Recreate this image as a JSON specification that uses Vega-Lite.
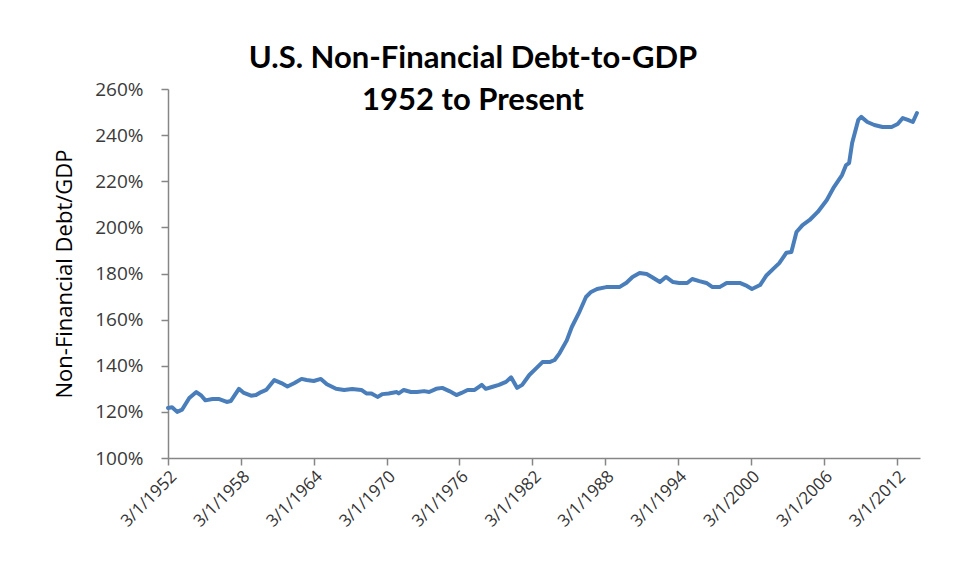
{
  "$schema": "https://vega.github.io/schema/vega-lite/v6.json",
  "width": 752,
  "height": 369,
  "autosize": {"type": "none"},
  "padding": {"left": 168, "top": 89, "right": 35, "bottom": 123},
  "background": "white",
  "title": {
    "text": ["U.S. Non-Financial Debt-to-GDP", "1952 to Present"],
    "font": "Lato",
    "fontSize": 31,
    "fontWeight": "bold",
    "color": "#000000",
    "anchor": "middle",
    "dx": -71,
    "offset": -61,
    "baseline": "alphabetic",
    "lineHeight": 42
  },
  "data": {
    "values": [
      {"date": "1952-03-01", "ratio": 1.217},
      {"date": "1952-07-01", "ratio": 1.22},
      {"date": "1952-12-01", "ratio": 1.2},
      {"date": "1953-05-01", "ratio": 1.21},
      {"date": "1953-12-01", "ratio": 1.26},
      {"date": "1954-07-01", "ratio": 1.286},
      {"date": "1954-12-01", "ratio": 1.27},
      {"date": "1955-04-01", "ratio": 1.25},
      {"date": "1955-11-01", "ratio": 1.256},
      {"date": "1956-05-01", "ratio": 1.256},
      {"date": "1957-01-01", "ratio": 1.243},
      {"date": "1957-05-01", "ratio": 1.247},
      {"date": "1958-01-01", "ratio": 1.3},
      {"date": "1958-06-01", "ratio": 1.282},
      {"date": "1959-01-01", "ratio": 1.27},
      {"date": "1959-06-01", "ratio": 1.273},
      {"date": "1959-11-01", "ratio": 1.286},
      {"date": "1960-04-01", "ratio": 1.295},
      {"date": "1960-12-01", "ratio": 1.338},
      {"date": "1961-07-01", "ratio": 1.325},
      {"date": "1962-01-01", "ratio": 1.31},
      {"date": "1962-08-01", "ratio": 1.325},
      {"date": "1963-03-01", "ratio": 1.343},
      {"date": "1963-08-01", "ratio": 1.338},
      {"date": "1964-03-01", "ratio": 1.334},
      {"date": "1964-10-01", "ratio": 1.343},
      {"date": "1965-04-01", "ratio": 1.32},
      {"date": "1966-01-01", "ratio": 1.3},
      {"date": "1966-09-01", "ratio": 1.295},
      {"date": "1967-05-01", "ratio": 1.299},
      {"date": "1968-02-01", "ratio": 1.295},
      {"date": "1968-07-01", "ratio": 1.28},
      {"date": "1968-12-01", "ratio": 1.28},
      {"date": "1969-06-01", "ratio": 1.265},
      {"date": "1969-11-01", "ratio": 1.277},
      {"date": "1970-05-01", "ratio": 1.28},
      {"date": "1971-01-01", "ratio": 1.286},
      {"date": "1971-03-01", "ratio": 1.28},
      {"date": "1971-08-01", "ratio": 1.295},
      {"date": "1972-03-01", "ratio": 1.286},
      {"date": "1972-09-01", "ratio": 1.286},
      {"date": "1973-04-01", "ratio": 1.29},
      {"date": "1973-09-01", "ratio": 1.286},
      {"date": "1974-04-01", "ratio": 1.3},
      {"date": "1974-10-01", "ratio": 1.304},
      {"date": "1975-05-01", "ratio": 1.29},
      {"date": "1975-12-01", "ratio": 1.273},
      {"date": "1976-05-01", "ratio": 1.282},
      {"date": "1976-11-01", "ratio": 1.295},
      {"date": "1977-06-01", "ratio": 1.295},
      {"date": "1978-01-01", "ratio": 1.317},
      {"date": "1978-05-01", "ratio": 1.3},
      {"date": "1978-11-01", "ratio": 1.308},
      {"date": "1979-06-01", "ratio": 1.317},
      {"date": "1980-01-01", "ratio": 1.33},
      {"date": "1980-06-01", "ratio": 1.35},
      {"date": "1980-12-01", "ratio": 1.304},
      {"date": "1981-05-01", "ratio": 1.317},
      {"date": "1981-12-01", "ratio": 1.36},
      {"date": "1982-07-01", "ratio": 1.39},
      {"date": "1983-01-01", "ratio": 1.416},
      {"date": "1983-08-01", "ratio": 1.416},
      {"date": "1984-01-01", "ratio": 1.425},
      {"date": "1984-06-01", "ratio": 1.455},
      {"date": "1985-01-01", "ratio": 1.51},
      {"date": "1985-06-01", "ratio": 1.568},
      {"date": "1986-01-01", "ratio": 1.629},
      {"date": "1986-08-01", "ratio": 1.698},
      {"date": "1987-01-01", "ratio": 1.72},
      {"date": "1987-07-01", "ratio": 1.733},
      {"date": "1988-04-01", "ratio": 1.741},
      {"date": "1988-12-01", "ratio": 1.741},
      {"date": "1989-05-01", "ratio": 1.741},
      {"date": "1989-12-01", "ratio": 1.76},
      {"date": "1990-06-01", "ratio": 1.785},
      {"date": "1991-01-01", "ratio": 1.802},
      {"date": "1991-08-01", "ratio": 1.798},
      {"date": "1992-01-01", "ratio": 1.785},
      {"date": "1992-09-01", "ratio": 1.763},
      {"date": "1993-03-01", "ratio": 1.785},
      {"date": "1993-10-01", "ratio": 1.763},
      {"date": "1994-04-01", "ratio": 1.759},
      {"date": "1994-12-01", "ratio": 1.759},
      {"date": "1995-05-01", "ratio": 1.776},
      {"date": "1995-12-01", "ratio": 1.767},
      {"date": "1996-07-01", "ratio": 1.759},
      {"date": "1997-01-01", "ratio": 1.741},
      {"date": "1997-08-01", "ratio": 1.741},
      {"date": "1998-03-01", "ratio": 1.759},
      {"date": "1998-09-01", "ratio": 1.759},
      {"date": "1999-04-01", "ratio": 1.759},
      {"date": "1999-11-01", "ratio": 1.746},
      {"date": "2000-04-01", "ratio": 1.733},
      {"date": "2000-12-01", "ratio": 1.75},
      {"date": "2001-06-01", "ratio": 1.79},
      {"date": "2002-01-01", "ratio": 1.82},
      {"date": "2002-07-01", "ratio": 1.845},
      {"date": "2003-02-01", "ratio": 1.89},
      {"date": "2003-07-01", "ratio": 1.893},
      {"date": "2003-12-01", "ratio": 1.98},
      {"date": "2004-06-01", "ratio": 2.01},
      {"date": "2005-01-01", "ratio": 2.032},
      {"date": "2005-09-01", "ratio": 2.067},
      {"date": "2006-06-01", "ratio": 2.119},
      {"date": "2007-01-01", "ratio": 2.175},
      {"date": "2007-09-01", "ratio": 2.227},
      {"date": "2008-01-01", "ratio": 2.27},
      {"date": "2008-04-01", "ratio": 2.279},
      {"date": "2008-07-01", "ratio": 2.366},
      {"date": "2009-01-01", "ratio": 2.466},
      {"date": "2009-04-01", "ratio": 2.479},
      {"date": "2009-10-01", "ratio": 2.457},
      {"date": "2010-05-01", "ratio": 2.444},
      {"date": "2011-01-01", "ratio": 2.435},
      {"date": "2011-10-01", "ratio": 2.435},
      {"date": "2012-04-01", "ratio": 2.448},
      {"date": "2012-09-01", "ratio": 2.474},
      {"date": "2013-02-01", "ratio": 2.466},
      {"date": "2013-07-01", "ratio": 2.457},
      {"date": "2013-11-01", "ratio": 2.496}
    ]
  },
  "mark": {"type": "line", "color": "#4A7EBB", "strokeWidth": 4, "strokeJoin": "round", "strokeCap": "round"},
  "encoding": {
    "x": {
      "field": "date",
      "type": "temporal",
      "scale": {
        "type": "utc",
        "domain": [
          {"year": 1952, "month": 3, "date": 1, "utc": true},
          {"year": 2014, "month": 2, "date": 1, "utc": true}
        ]
      },
      "axis": {
        "title": null,
        "grid": false,
        "values": [
          {"year": 1952, "month": 3, "date": 1, "utc": true},
          {"year": 1958, "month": 3, "date": 1, "utc": true},
          {"year": 1964, "month": 3, "date": 1, "utc": true},
          {"year": 1970, "month": 3, "date": 1, "utc": true},
          {"year": 1976, "month": 3, "date": 1, "utc": true},
          {"year": 1982, "month": 3, "date": 1, "utc": true},
          {"year": 1988, "month": 3, "date": 1, "utc": true},
          {"year": 1994, "month": 3, "date": 1, "utc": true},
          {"year": 2000, "month": 3, "date": 1, "utc": true},
          {"year": 2006, "month": 3, "date": 1, "utc": true},
          {"year": 2012, "month": 3, "date": 1, "utc": true}
        ],
        "labelExpr": "utcFormat(datum.value, '%-m/%-d/%Y')",
        "labelAngle": -45,
        "labelAlign": "right",
        "labelBaseline": "top",
        "labelFont": "Open Sans",
        "labelFontSize": 17,
        "labelColor": "#333333",
        "labelPadding": 3,
        "labelOverlap": false,
        "labelFlush": false,
        "domainColor": "#868686",
        "domainWidth": 1.5,
        "tickColor": "#868686",
        "tickWidth": 1.5,
        "tickSize": 7
      }
    },
    "y": {
      "field": "ratio",
      "type": "quantitative",
      "scale": {"domain": [1, 2.6], "nice": false, "zero": false},
      "axis": {
        "title": "Non-Financial Debt/GDP",
        "titleFont": "Open Sans",
        "titleFontSize": 22,
        "titleFontWeight": "normal",
        "titleColor": "#000000",
        "titlePadding": 18,
        "values": [1, 1.2, 1.4, 1.6, 1.8, 2.0, 2.2, 2.4, 2.6],
        "format": ".0%",
        "grid": false,
        "labelFont": "Open Sans",
        "labelFontSize": 19,
        "labelColor": "#3a3a3a",
        "labelPadding": 18,
        "labelFlush": false,
        "domainColor": "#868686",
        "domainWidth": 1.5,
        "tickColor": "#868686",
        "tickWidth": 1.5,
        "tickSize": 7
      }
    }
  },
  "config": {"view": {"stroke": null}}
}
